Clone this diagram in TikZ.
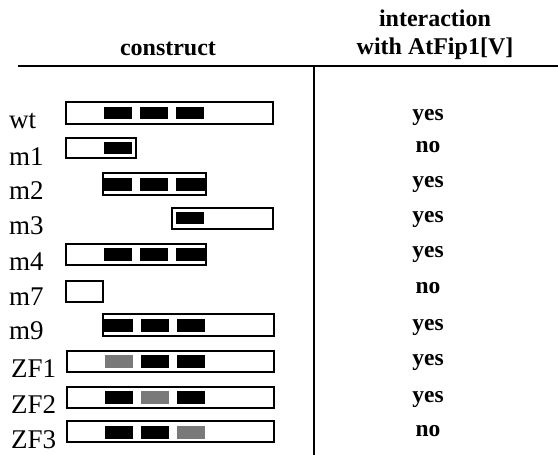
\documentclass[tikz,border=0pt]{standalone}
\usepackage{fontspec}
\setmainfont{Liberation Serif}
\begin{document}
\begin{tikzpicture}[x=1pt,y=-1pt,
  lab/.style={anchor=base west,inner sep=0pt,font=\fontsize{27}{30}\selectfont},
  ans/.style={anchor=base,inner sep=0pt,font=\fontsize{23.5}{26}\selectfont\bfseries},
  head/.style={anchor=base,inner sep=0pt,font=\fontsize{24}{27}\selectfont\bfseries},
  boxline/.style={draw=black,line width=1.5pt,fill=white},
  blk/.style={fill=black},
  gblk/.style={fill=gray!95!black},
  rule/.style={line width=1.8pt}]
\useasboundingbox (0,0) rectangle (558,455);
% header
\node[head] (hconstruct) at (168,56) {construct};
\node[head] (hint1) at (435,27) {interaction};
\node[head] (hint2) at (435,54) {with AtFip1[V]};
\coordinate (hl) at (18,66);
\coordinate (hr) at (558,66);
\coordinate (vt) at (314,66);
\coordinate (vb) at (314,455);
\draw[rule] (hl) -- (hr);
\draw[rule] (vt) -- (vb);
% wt
\node[lab] (lwt) at (9,128) {wt};
\draw[boxline] (66,102) rectangle (273,124);
\fill[blk] (104,107) rectangle (132,119);
\fill[blk] (140,107) rectangle (168,119);
\fill[blk] (176,107) rectangle (204,119);
\node[ans] (awt) at (428,120) {yes};
% m1
\node[lab] (lm1) at (9,165) {m1};
\draw[boxline] (66,138) rectangle (136,158);
\fill[blk] (104,142) rectangle (132,154);
\node[ans] (am1) at (428,152) {no};
% m2
\node[lab] (lm2) at (9,199) {m2};
\draw[boxline] (103,173) rectangle (206,195);
\fill[blk] (104,178) rectangle (132,191);
\fill[blk] (140,178) rectangle (168,191);
\fill[blk] (176,178) rectangle (205,191);
\node[ans] (am2) at (428,187) {yes};
% m3
\node[lab] (lm3) at (9,234) {m3};
\draw[boxline] (172,208) rectangle (273,229);
\fill[blk] (176,212) rectangle (204,224);
\node[ans] (am3) at (428,222) {yes};
% m4
\node[lab] (lm4) at (9,270) {m4};
\draw[boxline] (66,244) rectangle (206,265);
\fill[blk] (104,248) rectangle (132,261);
\fill[blk] (140,248) rectangle (168,261);
\fill[blk] (176,248) rectangle (205,261);
\node[ans] (am4) at (428,257) {yes};
% m7
\node[lab] (lm7) at (9,305) {m7};
\draw[boxline] (66,281) rectangle (103,302);
\node[ans] (am7) at (428,293) {no};
% m9
\node[lab] (lm9) at (9,339) {m9};
\draw[boxline] (103,314) rectangle (274,336);
\fill[blk] (104,319) rectangle (133,332);
\fill[blk] (141,319) rectangle (169,332);
\fill[blk] (177,319) rectangle (205,332);
\node[ans] (am9) at (428,330) {yes};
% ZF1
\node[lab] (lzf1) at (11,377) {ZF1};
\draw[boxline] (67,351) rectangle (274,372);
\fill[gblk] (105,355) rectangle (133,368);
\fill[blk] (141,355) rectangle (169,368);
\fill[blk] (177,355) rectangle (205,368);
\node[ans] (azf1) at (428,365) {yes};
% ZF2
\node[lab] (lzf2) at (11,413) {ZF2};
\draw[boxline] (67,387) rectangle (274,408);
\fill[blk] (105,391) rectangle (133,404);
\fill[gblk] (141,391) rectangle (169,404);
\fill[blk] (177,391) rectangle (205,404);
\node[ans] (azf2) at (428,402) {yes};
% ZF3
\node[lab] (lzf3) at (11,448) {ZF3};
\draw[boxline] (67,421) rectangle (274,442);
\fill[blk] (105,426) rectangle (133,439);
\fill[blk] (141,426) rectangle (169,439);
\fill[gblk] (177,426) rectangle (205,439);
\node[ans] (azf3) at (428,436) {no};
\end{tikzpicture}
\end{document}
